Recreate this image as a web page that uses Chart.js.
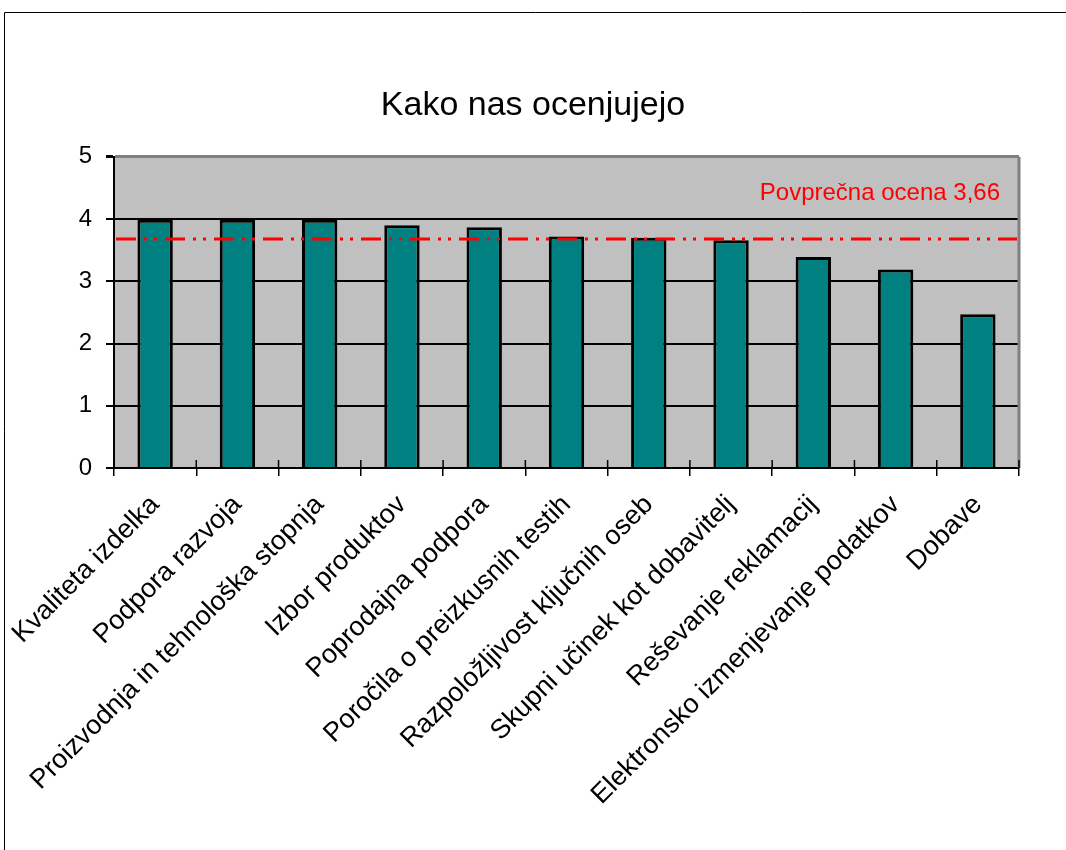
<!DOCTYPE html>
<html>
<head>
<meta charset="utf-8">
<script src="https://cdn.jsdelivr.net/npm/chart.js@4.4.1/dist/chart.umd.min.js"></script>
<style>
  html, body { margin: 0; padding: 0; background: #ffffff; }
  #wrap { width: 1066px; height: 850px; position: relative; }
</style>
</head>
<body>
<div id="wrap"><canvas id="c" width="1066" height="850"></canvas></div>
<script>
const categories = [
  "Kvaliteta izdelka",
  "Podpora razvoja",
  "Proizvodnja in tehnološka stopnja",
  "Izbor produktov",
  "Poprodajna podpora",
  "Poročila o preizkusnih testih",
  "Razpoložljivost ključnih oseb",
  "Skupni učinek kot dobavitelj",
  "Reševanje reklamacij",
  "Elektronsko izmenjevanje podatkov",
  "Dobave"
];
const scores = [3.99, 3.99, 3.99, 3.9, 3.87, 3.72, 3.7, 3.66, 3.39, 3.19, 2.47];
const averageScore = 3.68;
const averageLabel = "Povprečna ocena 3,66";
const chartTitle = "Kako nas ocenjujejo";
const yTicks = [0, 1, 2, 3, 4, 5];

const FONT = "'Liberation Sans', Arial, sans-serif";

const framePlugin = {
  id: 'frame',
  beforeDraw(chart) {
    const ctx = chart.ctx;
    const a = chart.chartArea;
    ctx.save();
    ctx.fillStyle = '#ffffff';
    ctx.fillRect(0, 0, chart.width, chart.height);
    ctx.strokeStyle = '#000000';
    ctx.lineWidth = 1;
    ctx.beginPath();
    ctx.moveTo(4.5, chart.height);
    ctx.lineTo(4.5, 12.5);
    ctx.lineTo(chart.width, 12.5);
    ctx.stroke();
    ctx.fillStyle = '#c0c0c0';
    ctx.fillRect(a.left, a.top, a.right - a.left, a.bottom - a.top);
    ctx.restore();
  },
  afterDatasetsDraw(chart) {
    const ctx = chart.ctx;
    const a = chart.chartArea;
    const xs = chart.scales.x;
    const ys = chart.scales.y;
    ctx.save();
    // right plot border
    ctx.strokeStyle = '#808080';
    ctx.lineWidth = 3;
    ctx.beginPath();
    ctx.moveTo(a.right, a.top);
    ctx.lineTo(a.right, a.bottom);
    ctx.stroke();
    // inner tick marks on the category axis
    const step = xs.getPixelForValue(1) - xs.getPixelForValue(0);
    ctx.strokeStyle = '#000000';
    ctx.lineWidth = 1.5;
    for (let i = 1; i <= categories.length; i++) {
      const x = xs.getPixelForValue(i) - step / 2;
      ctx.beginPath();
      ctx.moveTo(x, a.bottom - 8);
      ctx.lineTo(x, a.bottom);
      ctx.stroke();
    }
    // average line
    const yAvg = ys.getPixelForValue(averageScore);
    ctx.strokeStyle = '#ff0000';
    ctx.lineWidth = 3;
    ctx.setLineDash([20, 8, 3, 7, 3, 8]);
    ctx.beginPath();
    ctx.moveTo(a.left + 2, yAvg);
    ctx.lineTo(a.right - 2, yAvg);
    ctx.stroke();
    ctx.setLineDash([]);
    // average label
    ctx.fillStyle = '#ff0000';
    ctx.font = '24px ' + FONT;
    ctx.textAlign = 'right';
    ctx.textBaseline = 'alphabetic';
    ctx.fillText(averageLabel, a.right - 19, ys.getPixelForValue(4.31));
    ctx.restore();
  }
};

new Chart(document.getElementById('c'), {
  type: 'bar',
  data: {
    labels: categories,
    datasets: [{
      data: scores,
      backgroundColor: '#008080',
      borderColor: '#000000',
      borderWidth: 3,
      categoryPercentage: 1.0,
      barPercentage: 0.43
    }]
  },
  options: {
    responsive: false,
    animation: false,
    devicePixelRatio: 1,
    layout: { padding: { left: 0, right: 0, top: 0, bottom: 0 } },
    plugins: {
      legend: { display: false },
      tooltip: { enabled: false },
      title: {
        display: true,
        text: chartTitle,
        color: '#000000',
        font: { family: FONT, size: 34, weight: 'normal', lineHeight: 1.2 },
        padding: { top: 85, bottom: 31 }
      }
    },
    scales: {
      x: {
        offset: true,
        grid: {
          offset: true,
          drawOnChartArea: false,
          drawTicks: true,
          tickLength: 8,
          color: '#000000',
          lineWidth: 1.5
        },
        border: { display: true, color: '#000000', width: 2 },
        ticks: {
          autoSkip: false,
          maxRotation: 45,
          minRotation: 45,
          padding: 13,
          color: '#000000',
          font: { family: FONT, size: 27 }
        },
        afterFit(scale) {
          scale.height = 850 - 468;
          scale.paddingLeft = 0;
          scale.paddingRight = 0;
        }
      },
      y: {
        min: 0,
        max: 5,
        afterBuildTicks(scale) {
          scale.ticks = yTicks.map(v => ({ value: v }));
        },
        grid: {
          color: ctx => (ctx.tick && ctx.tick.value === 5) ? '#808080' : '#000000',
          lineWidth: ctx => (ctx.tick && ctx.tick.value === 5) ? 3 : 2,
          tickColor: '#000000',
          tickLength: 8,
          drawTicks: true
        },
        border: { display: true, color: '#000000', width: 2 },
        ticks: {
          padding: 14,
          color: '#000000',
          font: { family: FONT, size: 24 }
        },
        afterFit(scale) {
          scale.width = 114;
        }
      },
      yRight: {
        position: 'right',
        display: true,
        min: 0,
        max: 5,
        grid: { display: false, drawOnChartArea: false },
        border: { display: false },
        ticks: { display: false },
        afterFit(scale) {
          scale.width = 1066 - 1019;
        }
      }
    }
  },
  plugins: [framePlugin]
});
</script>
</body>
</html>
